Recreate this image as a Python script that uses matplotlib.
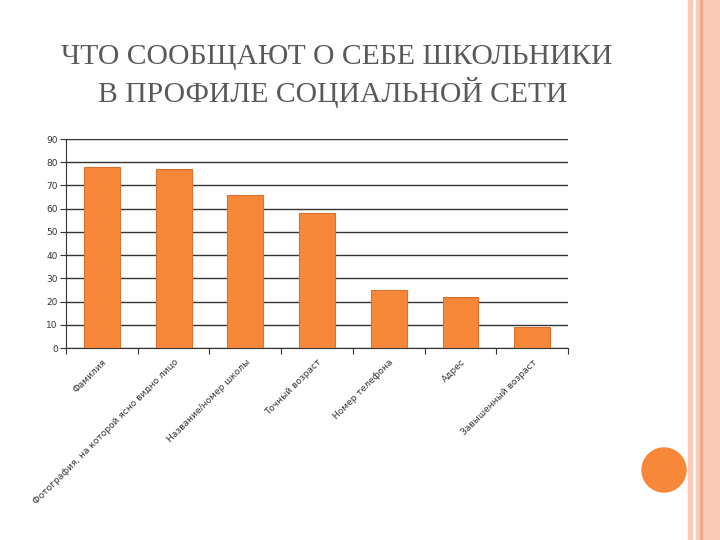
import matplotlib.pyplot as plt
import matplotlib.patches as mpatches
import numpy as np

categories = ['Фамилия', 'Фотография, на которой ясно видно лицо', 'Название/номер школы',
              'Точный возраст', 'Номер телефона', 'Адрес', 'Завышенный возраст']
values = [78, 77, 66, 58, 25, 22, 9]
yticks = [0, 10, 20, 30, 40, 50, 60, 70, 80, 90]

fig = plt.figure(figsize=(7.2, 5.4), dpi=100)

# decorative strips on the right side of the slide
fig.patches.append(mpatches.Rectangle((688/720, 0), 4/720, 1, transform=fig.transFigure,
                                      color='#F9C9B6', zorder=0))
fig.patches.append(mpatches.Rectangle((696/720, 0), 24/720, 1, transform=fig.transFigure,
                                      color='#FBCBB8', zorder=0))
fig.patches.append(mpatches.Rectangle((700/720, 0), 2/720, 1, transform=fig.transFigure,
                                      color='#EFA98A', zorder=1))
fig.patches.append(mpatches.Ellipse((664/720, 1 - 470/540), 44/720, 44/540, transform=fig.transFigure,
                                    color='#F7883A', zorder=1))

fig.text(337/720, 1 - 57/540, 'ЧТО СООБЩАЮТ О СЕБЕ ШКОЛЬНИКИ', ha='center', va='center',
         fontsize=21.3, family='Liberation Serif', color='#595959')
fig.text(333/720, 1 - 92/540, 'В ПРОФИЛЕ СОЦИАЛЬНОЙ СЕТИ', ha='center', va='center',
         fontsize=21.3, family='Liberation Serif', color='#595959')

ax = fig.add_axes([66/720, 1 - 348/540, 502/720, 209/540])
x = np.arange(len(categories))
ax.bar(x, values, width=0.5, color='#F7883A', edgecolor='#D9722E', linewidth=0.8, zorder=3)

ax.set_xlim(-0.5, len(categories) - 0.5)
ax.set_ylim(0, 90)
ax.set_yticks(yticks)
ax.set_yticklabels([str(v) for v in yticks], fontsize=6.5, color='#333333')
ax.yaxis.grid(True, color='#333333', linewidth=1.0, zorder=0)
ax.set_axisbelow(True)

ax.set_xticks(np.arange(len(categories) + 1) - 0.5)
ax.set_xticklabels([])
ax.set_xticks(x, minor=True)
ax.set_xticklabels(categories, minor=True, rotation=45, ha='right', rotation_mode='anchor',
                   fontsize=6.5, color='#333333')
ax.tick_params(axis='x', which='minor', length=0, pad=7)
ax.tick_params(axis='x', which='major', length=4, color='#333333', direction='out')
ax.tick_params(axis='y', length=4, color='#333333', pad=2)

for s in ['top', 'right']:
    ax.spines[s].set_visible(False)
ax.spines['left'].set_color('#333333')
ax.spines['bottom'].set_color('#333333')

fig.savefig('out.png', dpi=100)
